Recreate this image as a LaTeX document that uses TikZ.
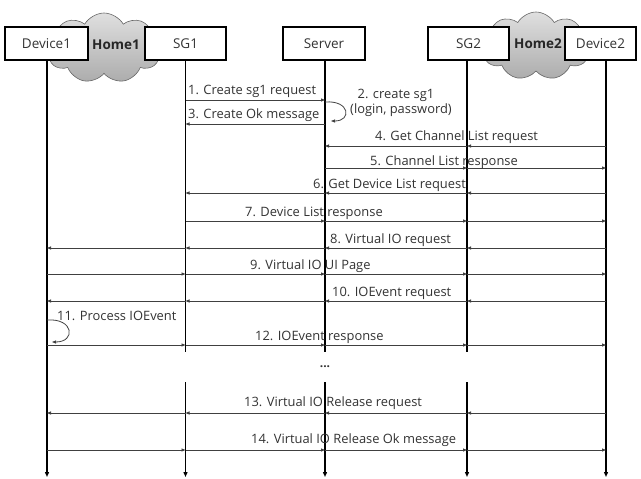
\documentclass[tikz,border=0pt]{standalone}
\usepackage{fontspec}
\setmainfont{Open Sans}
\usetikzlibrary{shapes.symbols,arrows.meta}
\tikzset{
  actor/.style={draw, line width=1.1pt, minimum height=33pt, inner sep=0pt, fill=white,
    text=black!80, font=\fontsize{13.5}{15}\selectfont},
  life/.style={line width=1.7pt, -{Triangle[length=5pt,width=4pt]}},
  lifenoarrow/.style={line width=1.7pt},
  msg/.style={line width=0.8pt, draw=black!75, -{Triangle[length=4pt,width=3pt]}},
  lbl/.style={font=\fontsize{12.9}{14}\selectfont, text=black!80, anchor=west, inner sep=0pt},
  homecloud/.style={cloud, cloud puffs=9, cloud puff arc=120, draw=gray!80!black, line width=0.6pt,
    top color=gray!25, bottom color=gray!65, inner sep=0pt},
  homelbl/.style={font=\bfseries\fontsize{13.5}{15}\selectfont, text=black!85, inner sep=0pt}
}
\newcommand\msgseg[3]{\draw[msg] (#1|-0,#3) -- (#2|-0,#3);}
\begin{document}
\begin{tikzpicture}[x=1pt,y=-1pt]
\useasboundingbox (0,0) rectangle (641,479);
% clouds
\node[homecloud, minimum width=116pt, minimum height=70pt] (c1) at (104,48) {};
\node[homecloud, minimum width=110pt, minimum height=68pt] (c2) at (536,46) {};
% lifeline coordinates
\coordinate (L1) at (47,60);
\coordinate (L2) at (185.5,60);
\coordinate (L3) at (325,60);
\coordinate (L4) at (467,60);
\coordinate (L5) at (606,60);
% lifelines
\draw[life] (L1) -- (L1|-0,477);
\draw[life] (L5) -- (L5|-0,477);
\foreach \l in {L2,L3,L4}{
  \draw[lifenoarrow] (\l) -- (\l|-0,352);
  \draw[life] (\l|-0,382) -- (\l|-0,477);
}
% boxes
\node[actor, minimum width=83pt] (dev1) at (46.5,43.5) {Device1};
\node[actor, minimum width=81pt] (sg1) at (185.5,43.5) {SG1};
\node[actor, minimum width=82pt] (server) at (324,43.5) {Server};
\node[actor, minimum width=81pt] (sg2) at (468.5,43.5) {SG2};
\node[actor, minimum width=71pt] (dev2) at (600.5,43.5) {Device2};
\node[homelbl] (h1) at (116,45) {Home1};
\node[homelbl] (h2) at (538,44) {Home2};
% 1
\msgseg{L2}{L3}{100}
\node[lbl] (m1) at (188,91) {1. Create sg1 request};
% 2
\draw[msg] (L3|-0,102) .. controls (350,100) and (352,121) .. (331,121);
\node[lbl, anchor=center] (m2a) at (396,95) {2. create sg1};
\node[lbl] (m2b) at (350,110) {(login, password)};
% 3
\msgseg{L3}{L2}{124}
\node[lbl] (m3) at (188,115) {3. Create Ok message};
% 4
\msgseg{L5}{L4}{146}
\msgseg{L4}{L3}{146}
\node[lbl] (m4) at (375,137) {4. Get Channel List request};
% 5
\msgseg{L3}{L4}{168}
\msgseg{L4}{L5}{168}
\node[lbl] (m5) at (370,162) {5. Channel List response};
% 6
\msgseg{L5}{L4}{193}
\msgseg{L4}{L3}{193}
\msgseg{L3}{L2}{193}
\node[lbl, anchor=east] (m6) at (466,185) {6. Get Device List request};
% 7
\msgseg{L2}{L3}{221}
\msgseg{L3}{L4}{221}
\msgseg{L4}{L5}{221}
\node[lbl] (m7) at (245,213) {7. Device List response};
% 8
\msgseg{L5}{L4}{248}
\msgseg{L4}{L3}{248}
\msgseg{L3}{L2}{248}
\msgseg{L2}{L1}{248}
\node[lbl] (m8) at (330,240) {8. Virtual IO request};
% 9
\msgseg{L1}{L2}{274}
\msgseg{L2}{L3}{274}
\msgseg{L3}{L4}{274}
\msgseg{L4}{L5}{274}
\node[lbl] (m9) at (250,266) {9. Virtual IO UI Page};
% 10
\msgseg{L5}{L4}{301}
\msgseg{L4}{L3}{301}
\msgseg{L3}{L2}{301}
\msgseg{L2}{L1}{301}
\node[lbl] (m10) at (332,293) {10. IOEvent request};
% 11
\draw[msg] (L1|-0,320) .. controls (74,318) and (76,342) .. (52,342);
\node[lbl] (m11) at (57,316) {11. Process IOEvent};
% 12
\msgseg{L1}{L2}{345}
\msgseg{L2}{L3}{345}
\msgseg{L3}{L4}{345}
\msgseg{L4}{L5}{345}
\node[lbl] (m12) at (255,337) {12. IOEvent response};
% dots
\node[font=\bfseries\fontsize{12}{14}\selectfont, text=black!80] (dots) at (325,367) {...};
% 13
\msgseg{L5}{L4}{413}
\msgseg{L4}{L3}{413}
\msgseg{L3}{L2}{413}
\msgseg{L2}{L1}{413}
\node[lbl] (m13) at (244,403) {13. Virtual IO Release request};
% 14
\msgseg{L1}{L2}{450}
\msgseg{L2}{L3}{450}
\msgseg{L3}{L4}{450}
\msgseg{L4}{L5}{450}
\node[lbl] (m14) at (251,440) {14. Virtual IO Release Ok message};
\end{tikzpicture}
\end{document}
